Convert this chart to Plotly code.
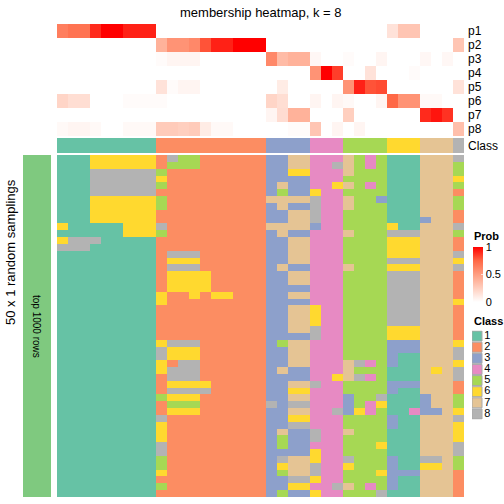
import plotly.graph_objects as go

W = H = 504
def px(x): return x / W
def py(y): return 1 - y / H

title = "membership heatmap, k = 8"
row_labels = ["p1", "p2", "p3", "p4", "p5", "p6", "p7", "p8"]
class_labels = ["1", "2", "3", "4", "5", "6", "7", "8"]
class_colors = ["#66C2A5", "#FC8D62", "#8DA0CB", "#E78AC3", "#A6D854", "#FFD92F", "#E5C494", "#B3B3B3"]

# class of each of the 37 columns
column_class = "1111111112222222222333344455556667778"

# membership probabilities per column
p1 = [0.65,0.7,0.7,0.9,1,1,0.92,0.92,0.92, 0,0,0,0,0,0,0,0,0,0, 0,0,0,0, 0,0,0, 0,0,0,0, 0.15,0.3,0.3, 0,0,0, 0]
p2 = [0,0,0,0,0,0,0,0,0, 0.4,0.55,0.55,0.6,0.8,0.92,0.92,1,1,1, 0,0,0,0, 0,0,0, 0,0,0,0, 0,0,0, 0,0,0, 0.3]
p3 = [0,0,0,0,0,0,0,0,0, 0.02,0.05,0.05,0.05,0,0,0,0,0,0, 0.6,0.35,0.4,0.4, 0.04,0,0, 0.02,0,0,0.05, 0,0,0, 0.04,0,0.04, 0]
p4 = [0,0,0,0,0,0,0,0,0, 0,0,0,0,0,0,0,0,0,0, 0,0,0,0, 0.55,1,0.85, 0,0,0.15,0, 0,0,0.02, 0,0,0, 0]
p5 = [0,0,0,0,0,0,0,0,0, 0.15,0.02,0.05,0.05,0,0,0,0,0,0, 0,0.1,0,0, 0,0,0, 0.55,0.92,0.8,0.82, 0,0,0, 0,0,0, 0.15]
p6 = [0.22,0.17,0.17,0,0,0,0.02,0.02,0.02, 0.02,0,0,0,0,0,0,0,0,0, 0.22,0.17,0,0, 0.05,0,0.05, 0.03,0,0,0.05, 0.75,0.55,0.55, 0.03,0.03,0, 0]
p7 = [0,0,0,0,0,0,0,0,0, 0,0,0,0,0,0,0,0,0,0, 0.05,0.18,0.4,0.4, 0,0,0, 0.25,0,0,0, 0,0,0, 0.9,0.95,0.88, 0]
p8 = [0.03,0.05,0.05,0.03,0,0,0.03,0.03,0.03, 0.27,0.27,0.25,0.27,0.1,0.03,0.03,0,0,0, 0,0,0.02,0.02, 0.3,0,0.05, 0,0.05,0,0, 0,0,0, 0,0,0, 0.33]

# class assigned in each of the 50 random samplings (rows) for each column
samplings = [
    "111666666" "2855222222" "3377" "444" "7545" "111" "777" "8",
    "111666666" "2555222222" "3377" "448" "7545" "111" "777" "5",
    "111888888" "5222222222" "3366" "444" "7555" "111" "777" "5",
    "111888888" "6222222222" "3333" "444" "5555" "111" "777" "6",
    "111888888" "5222222222" "3733" "446" "7545" "111" "777" "5",
    "111888888" "2222222222" "3533" "644" "5555" "111" "777" "2",
    "111666666" "5222222222" "7777" "844" "7553" "111" "777" "5",
    "111666666" "5222222222" "3733" "844" "7555" "111" "777" "5",
    "111666666" "2222222222" "3377" "844" "5555" "111" "777" "2",
    "111666666" "2222222222" "3377" "844" "5555" "111" "377" "2",
    "611111666" "8222222222" "7777" "344" "5555" "611" "777" "8",
    "111111666" "5222222222" "3733" "444" "7555" "888" "777" "5",
    "688811111" "2222222222" "3377" "444" "5555" "666" "777" "2",
    "888111111" "2222222222" "3377" "444" "5555" "666" "777" "2",
    "111111111" "2888222222" "3377" "444" "5555" "666" "777" "8",
    "111111111" "2666222222" "3377" "444" "5555" "888" "777" "6",
    "111111111" "2888222222" "3733" "444" "7555" "666" "777" "8",
    "111111111" "2666622222" "3377" "444" "5555" "888" "777" "2",
    "111111111" "2666622222" "3377" "444" "5555" "888" "777" "2",
    "111111111" "2666622222" "3333" "444" "5555" "888" "777" "2",
    "111111111" "6226266222" "3377" "444" "5555" "888" "777" "2",
    "111111111" "6222222222" "3333" "444" "5555" "888" "777" "6",
    "111111111" "2222222222" "3377" "644" "5555" "888" "777" "2",
    "111111111" "2222222222" "3377" "644" "5555" "888" "777" "2",
    "111111111" "2222222222" "3377" "644" "5555" "888" "777" "2",
    "111111111" "2222222222" "3377" "844" "5555" "666" "777" "2",
    "111111111" "2222222222" "3333" "844" "5555" "666" "777" "2",
    "111111111" "6888222222" "3577" "444" "5555" "333" "777" "6",
    "111111111" "8666222222" "3377" "444" "5555" "333" "777" "8",
    "111111111" "8666222222" "3377" "444" "5555" "311" "777" "8",
    "111111111" "6288222222" "3377" "444" "7845" "311" "777" "6",
    "111111111" "6888222222" "3733" "444" "7555" "111" "767" "8",
    "111111111" "2888222222" "3333" "446" "7845" "111" "777" "8",
    "111111111" "2666622222" "3377" "844" "5555" "333" "777" "2",
    "111111111" "2888822222" "3366" "444" "5555" "311" "777" "2",
    "111111111" "5666222222" "3377" "444" "3558" "111" "377" "5",
    "111111111" "2555222222" "8388" "444" "3546" "111" "377" "5",
    "111111111" "2666222222" "3377" "448" "3645" "114" "337" "6",
    "111111111" "8222222222" "3366" "444" "5555" "311" "777" "8",
    "111111111" "6222222222" "3388" "444" "5555" "311" "777" "6",
    "111111111" "6222222222" "3733" "844" "7555" "111" "777" "6",
    "111111111" "6222222222" "3533" "844" "5555" "111" "777" "6",
    "111111111" "8222222222" "3533" "444" "5556" "111" "777" "8",
    "111111111" "8222222222" "3333" "644" "5555" "111" "777" "8",
    "111111111" "5222222222" "3877" "644" "8555" "311" "887" "5",
    "111111111" "5222222222" "3677" "844" "6555" "311" "667" "5",
    "111111111" "6222222222" "3577" "844" "5556" "333" "777" "2",
    "111111111" "2222222222" "3388" "644" "5555" "311" "777" "2",
    "111111111" "5222222222" "3366" "448" "7545" "311" "777" "2",
    "111111111" "2222222222" "3533" "644" "5558" "111" "777" "2",
]

FONT = "Liberation Sans, Arial, Helvetica, sans-serif"

z_main = [[int(c) for c in r] for r in samplings]
z_class = [[int(c) for c in column_class]]
z_prob = [p1, p2, p3, p4, p5, p6, p7, p8]
ncol = len(column_class)
nrow = len(samplings)

disc = []
for k, c in enumerate(class_colors):
    disc += [[k / 8, c], [(k + 1) / 8, c]]

prob_scale = [[0, "#FFFFFF"], [0.25, "rgb(255,207,191)"], [0.5, "rgb(255,158,129)"],
              [0.75, "rgb(255,104,70)"], [1, "#FF0000"]]

fig = go.Figure()

# main sampling heatmap
fig.add_trace(go.Heatmap(z=z_main, x=list(range(ncol)), y=list(range(nrow)), colorscale=disc,
                         zmin=0.5, zmax=8.5, showscale=False, xaxis="x", yaxis="y", hoverinfo="skip"))
# membership heatmap
fig.add_trace(go.Heatmap(z=z_prob, x=list(range(ncol)), y=row_labels, colorscale=prob_scale,
                         zmin=0, zmax=1, xaxis="x2", yaxis="y2", hoverinfo="skip",
                         colorbar=dict(x=px(473), xanchor="left", xpad=0, y=py(247), yanchor="top",
                                       ypad=0, len=55, lenmode="pixels", thickness=10,
                                       thicknessmode="pixels", outlinewidth=0,
                                       tickvals=[0, 0.5, 1], ticktext=["0", "0.5", "1"],
                                       ticks="inside", ticklen=2, tickcolor="rgba(255,255,255,0.7)",
                                       tickfont=dict(family=FONT, size=11, color="black"))))
# class annotation row
fig.add_trace(go.Heatmap(z=z_class, x=list(range(ncol)), y=["Class"], colorscale=disc,
                         zmin=0.5, zmax=8.5, showscale=False, xaxis="x3", yaxis="y3", hoverinfo="skip"))
# left block bar
fig.add_trace(go.Heatmap(z=[[1]], x=[0], y=[0], colorscale=[[0, "#7FC97F"], [1, "#7FC97F"]],
                         showscale=False, xaxis="x4", yaxis="y4", hoverinfo="skip"))
# class legend
fig.add_trace(go.Scatter(x=[0] * len(class_labels), y=[int(c) for c in class_labels],
                         mode="markers+text", text=class_labels, textposition="middle right",
                         textfont=dict(family=FONT, size=11, color="black"),
                         marker=dict(symbol="square", size=10, color=class_colors,
                                     line=dict(color="#A8A8A8", width=1)),
                         xaxis="x5", yaxis="y5", showlegend=False, hoverinfo="skip"))

hx = [px(57), px(464)]
hidden = dict(visible=False, showgrid=False, zeroline=False)
fig.update_layout(
    width=W, height=H, margin=dict(l=0, r=0, t=0, b=0),
    paper_bgcolor="white", plot_bgcolor="white", showlegend=False,
    font=dict(family=FONT, size=12, color="black"),
    xaxis=dict(domain=hx, range=[-0.5, ncol - 0.5], anchor="y", **hidden),
    yaxis=dict(domain=[py(497), py(155)], range=[nrow - 0.5, -0.5], anchor="x", **hidden),
    xaxis2=dict(domain=hx, range=[-0.5, ncol - 0.5], anchor="y2", **hidden),
    yaxis2=dict(domain=[py(136), py(24)], autorange="reversed", anchor="x2", side="right",
                tickmode="array", tickvals=row_labels, ticktext=row_labels,
                showgrid=False, zeroline=False, showline=False, ticks="", ticklabelstandoff=3,
                tickfont=dict(family=FONT, size=12)),
    xaxis3=dict(domain=hx, range=[-0.5, ncol - 0.5], anchor="y3", **hidden),
    yaxis3=dict(domain=[py(153), py(138)], anchor="x3", side="right",
                showgrid=False, zeroline=False, showline=False, ticks="", ticklabelstandoff=3,
                tickfont=dict(family=FONT, size=12)),
    xaxis4=dict(domain=[px(23), px(51)], range=[-0.5, 0.5], anchor="y4", **hidden),
    yaxis4=dict(domain=[py(497), py(155)], range=[-0.5, 0.5], anchor="x4", **hidden),
    xaxis5=dict(domain=[px(472), px(500)], range=[-0.5, 2.3], anchor="y5", **hidden),
    yaxis5=dict(domain=[py(419.5), py(330.5)], range=[8.5, 0.5], anchor="x5", **hidden),
)

ann = [
    dict(text=title, x=px(260.5), y=py(12), font=dict(size=13)),
    dict(text="50 x 1 random samplings", x=px(10), y=py(252), textangle=-90, font=dict(size=13)),
    dict(text="top 1000 rows", x=px(37), y=py(326), textangle=90, font=dict(size=10)),
    dict(text="<b>Prob</b>", x=px(472), y=py(236), xanchor="left", font=dict(size=11)),
    dict(text="<b>Class</b>", x=px(472), y=py(321), xanchor="left", font=dict(size=11)),
]
for a in ann:
    a.setdefault("xanchor", "center")
    fig.add_annotation(xref="paper", yref="paper", showarrow=False, yanchor="middle",
                       font=dict(family=FONT, size=a["font"]["size"], color="black"),
                       **{k: v for k, v in a.items() if k != "font"})

fig.write_html("out.html", config={"displayModeBar": False},
               post_script="document.body.style.margin='0';document.body.style.padding='0';"
                           "document.body.style.overflow='hidden';")
